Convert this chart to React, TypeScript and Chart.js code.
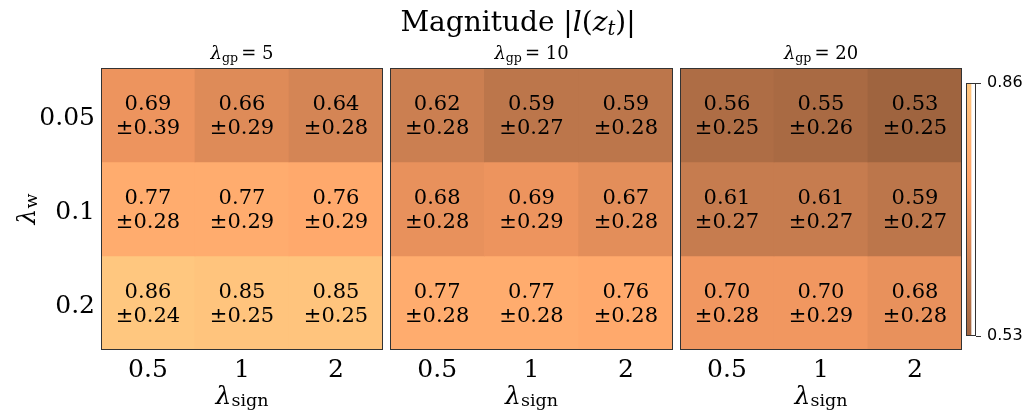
import React, { useEffect, useRef } from 'react';
import { Chart, registerables } from 'chart.js';

Chart.register(...registerables);

// ---------------- data ----------------
const rowLabels = ['0.05', '0.1', '0.2']; // lambda_w
const colLabels = ['0.5', '1', '2']; // lambda_sign
const gpValues = [5, 10, 20];

const meansGp5 = [
  [0.69, 0.66, 0.64],
  [0.77, 0.77, 0.76],
  [0.86, 0.85, 0.85],
];
const stdsGp5 = [
  [0.39, 0.29, 0.28],
  [0.28, 0.29, 0.29],
  [0.24, 0.25, 0.25],
];
const meansGp10 = [
  [0.62, 0.59, 0.59],
  [0.68, 0.69, 0.67],
  [0.77, 0.77, 0.76],
];
const stdsGp10 = [
  [0.28, 0.27, 0.28],
  [0.28, 0.29, 0.28],
  [0.28, 0.28, 0.28],
];
const meansGp20 = [
  [0.56, 0.55, 0.53],
  [0.61, 0.61, 0.59],
  [0.70, 0.70, 0.68],
];
const stdsGp20 = [
  [0.25, 0.26, 0.25],
  [0.27, 0.27, 0.27],
  [0.28, 0.29, 0.28],
];

const cbarMin = 0.53;
const cbarMax = 0.86;
const cbarTicks = [0.53, 0.86];

const panelMeans = [meansGp5, meansGp10, meansGp20];
const panelStds = [stdsGp5, stdsGp10, stdsGp20];

// ---------------- layout / style ----------------
const W = 1030;
const H = 415;
const SERIF = "'DejaVu Serif', serif";
const SANS = "'DejaVu Sans', sans-serif";
const panelLeft = [101, 390, 680];
const panelRight = [383, 673, 962];
const panelTop = 68;
const panelBottom = 350;
const cbar = { left: 966, right: 976, top: 83, bottom: 336 };

function copper(t: number): [number, number, number] {
  const c = Math.max(0, Math.min(1, t));
  return [Math.min(1, 1.25 * c) * 255, 0.7812 * c * 255, 0.4975 * c * 255];
}
function valueColor(v: number): string {
  const f = (v - cbarMin) / (cbarMax - cbarMin);
  const t = 0.5 + 0.5 * Math.max(0, Math.min(1, f));
  const [r, g, b] = copper(t);
  return `rgb(${Math.round(r)},${Math.round(g)},${Math.round(b)})`;
}

type Seg = { t: string; size: number; italic?: boolean; dy?: number; gap?: number; family?: string };
function segFont(s: Seg) {
  return `${s.italic ? 'italic ' : ''}${s.size}px ${s.family || SERIF}`;
}
function drawMath(ctx: CanvasRenderingContext2D, segs: Seg[], x: number, y: number) {
  let w = 0;
  for (const s of segs) {
    ctx.font = segFont(s);
    w += ctx.measureText(s.t).width + (s.gap || 0);
  }
  let cx = x - w / 2;
  ctx.textAlign = 'left';
  ctx.textBaseline = 'alphabetic';
  ctx.fillStyle = '#000';
  for (const s of segs) {
    ctx.font = segFont(s);
    ctx.fillText(s.t, cx, y + (s.dy || 0));
    cx += ctx.measureText(s.t).width + (s.gap || 0);
  }
}

function zeroPad(scale: any) {
  scale.paddingTop = 0;
  scale.paddingBottom = 0;
  scale.paddingLeft = 0;
  scale.paddingRight = 0;
}

function makePanelConfig(p: number): any {
  const means = panelMeans[p];
  const stds = panelStds[p];
  const yW = p === 0 ? 60 : 0;
  const xH = 50;
  const datasets = rowLabels.map((_, ri) => ({
    label: rowLabels[ri],
    data: colLabels.map(() => [ri, ri + 1]),
    backgroundColor: means[ri].map((v) => valueColor(v)),
    borderWidth: 0,
    borderSkipped: false,
    barPercentage: 1,
    categoryPercentage: 1,
  }));

  const decor = {
    id: 'panelDecor' + p,
    afterDatasetsDraw(chart: any) {
      const ctx: CanvasRenderingContext2D = chart.ctx;
      const a = chart.chartArea;
      ctx.save();
      // cell annotations
      ctx.fillStyle = '#000';
      ctx.textAlign = 'center';
      ctx.textBaseline = 'middle';
      ctx.font = `21px ${SERIF}`;
      chart.data.datasets.forEach((_: any, di: number) => {
        const meta = chart.getDatasetMeta(di);
        meta.data.forEach((el: any, ci: number) => {
          const cx = el.x;
          const cy = (el.y + el.base) / 2;
          ctx.fillText(means[di][ci].toFixed(2), cx, cy - 10);
          ctx.fillText('\u00B1' + stds[di][ci].toFixed(2), cx, cy + 14);
        });
      });
      // frame
      ctx.strokeStyle = '#333';
      ctx.lineWidth = 1;
      ctx.strokeRect(a.left + 0.5, a.top + 0.5, a.right - a.left - 1, a.bottom - a.top - 1);
      const mid = (a.left + a.right) / 2;
      // subplot title
      drawMath(
        ctx,
        [
          { t: '\u03BB', size: 18, italic: true },
          { t: 'gp', size: 12.6, dy: 3, gap: 3 },
          { t: '= ' + gpValues[p], size: 18 },
        ],
        mid,
        a.top - 9
      );
      // x label
      drawMath(
        ctx,
        [
          { t: '\u03BB', size: 25, italic: true },
          { t: 'sign', size: 17.5, dy: 2 },
        ],
        mid,
        a.bottom + 54
      );
      if (p === 0) {
        // y label
        ctx.save();
        ctx.translate(35, (a.top + a.bottom) / 2);
        ctx.rotate(-Math.PI / 2);
        drawMath(
          ctx,
          [
            { t: '\u03BB', size: 25, italic: true },
            { t: 'w', size: 17.5, dy: 2 },
          ],
          0,
          0
        );
        ctx.restore();
        // figure title
        drawMath(
          ctx,
          [
            { t: 'Magnitude |', size: 28 },
            { t: 'l', size: 28, italic: true },
            { t: '(', size: 28 },
            { t: 'z', size: 28, italic: true },
            { t: 't', size: 19.5, italic: true, dy: 4 },
            { t: ')|', size: 28 },
          ],
          W / 2 + 3,
          31
        );
      }
      ctx.restore();
    },
  };

  return {
    type: 'bar',
    data: { labels: colLabels, datasets },
    options: {
      responsive: false,
      animation: false,
      events: [],
      layout: {
        padding: {
          left: panelLeft[p] - yW,
          right: W - panelRight[p],
          top: panelTop,
          bottom: H - panelBottom - xH,
        },
      },
      plugins: { legend: { display: false }, tooltip: { enabled: false }, title: { display: false } },
      scales: {
        x: {
          type: 'category',
          stacked: true,
          offset: true,
          grid: { display: false, drawTicks: false },
          border: { display: false },
          ticks: { color: '#000', font: { family: SERIF, size: 25 }, padding: 5, maxRotation: 0 },
          afterFit: (s: any) => {
            s.height = xH;
            zeroPad(s);
          },
        },
        y: {
          type: 'linear',
          display: p === 0,
          stacked: false,
          min: 0,
          max: 3,
          reverse: true,
          grid: { display: false, drawTicks: false },
          border: { display: false },
          afterBuildTicks: (s: any) => {
            s.ticks = rowLabels.map((_, i) => ({ value: i + 0.5 }));
          },
          ticks: {
            color: '#000',
            font: { family: SERIF, size: 25 },
            padding: 6,
            labelOffset: 3,
            callback: (_v: any, i: number) => rowLabels[i],
          },
          afterFit: (s: any) => {
            s.width = yW;
            zeroPad(s);
          },
        },
      },
    },
    plugins: [decor],
  };
}

function makeCbarConfig(): any {
  const cbW = 50;
  const frame = {
    id: 'cbarFrame',
    afterDatasetsDraw(chart: any) {
      const ctx: CanvasRenderingContext2D = chart.ctx;
      const a = chart.chartArea;
      ctx.save();
      ctx.strokeStyle = '#333';
      ctx.lineWidth = 1;
      ctx.strokeRect(a.left + 0.5, a.top + 0.5, a.right - a.left - 1, a.bottom - a.top - 1);
      ctx.restore();
    },
  };
  return {
    type: 'bar',
    data: {
      labels: [''],
      datasets: [
        {
          data: [[cbarMin, cbarMax]],
          borderWidth: 0,
          borderSkipped: false,
          barPercentage: 1,
          categoryPercentage: 1,
          backgroundColor: (c: any) => {
            const a = c.chart.chartArea;
            if (!a) return 'transparent';
            const ys = c.chart.scales.y;
            const g = c.chart.ctx.createLinearGradient(0, ys.getPixelForValue(cbarMin), 0, ys.getPixelForValue(cbarMax));
            const n = 40;
            for (let i = 0; i <= n; i++) {
              g.addColorStop(i / n, valueColor(cbarMin + ((cbarMax - cbarMin) * i) / n));
            }
            return g;
          },
        },
      ],
    },
    options: {
      responsive: false,
      animation: false,
      events: [],
      layout: {
        padding: { left: cbar.left, right: W - cbar.right - cbW, top: cbar.top, bottom: H - cbar.bottom },
      },
      plugins: { legend: { display: false }, tooltip: { enabled: false } },
      scales: {
        x: { display: false, offset: false },
        y: {
          position: 'right',
          min: cbarMin,
          max: cbarMax,
          grid: { drawOnChartArea: false, drawTicks: true, tickLength: 5, color: '#333' },
          border: { display: false },
          afterBuildTicks: (s: any) => {
            s.ticks = cbarTicks.map((v) => ({ value: v }));
          },
          ticks: {
            color: '#000',
            font: { family: SANS, size: 16 },
            padding: 6,
            callback: (v: any) => Number(v).toFixed(2),
          },
          afterFit: (s: any) => {
            s.width = cbW;
            zeroPad(s);
          },
        },
      },
    },
    plugins: [frame],
  };
}

function ChartCanvas({ make }: { make: () => any }) {
  const ref = useRef<HTMLCanvasElement>(null);
  useEffect(() => {
    const chart = new Chart(ref.current as HTMLCanvasElement, make());
    return () => chart.destroy();
  }, []);
  return (
    <canvas
      ref={ref}
      width={W}
      height={H}
      style={{ position: 'absolute', left: 0, top: 0, width: W, height: H }}
    />
  );
}

export default function App() {
  return (
    <div style={{ position: 'absolute', left: 0, top: 0, width: W, height: H, background: '#fff' }}>
      <ChartCanvas make={() => makePanelConfig(0)} />
      <ChartCanvas make={() => makePanelConfig(1)} />
      <ChartCanvas make={() => makePanelConfig(2)} />
      <ChartCanvas make={makeCbarConfig} />
    </div>
  );
}
